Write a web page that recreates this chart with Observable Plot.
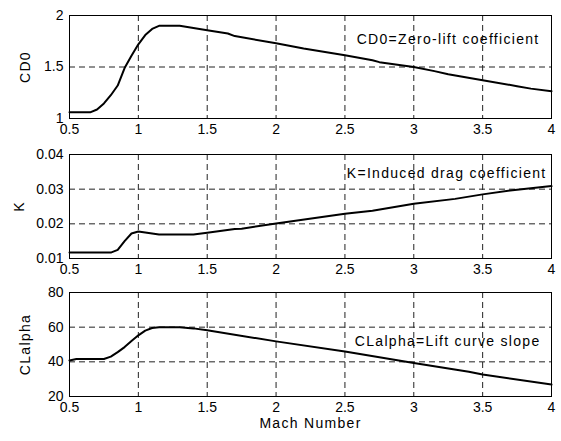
<!DOCTYPE html>
<html>
<head>
<meta charset="utf-8">
<script src="https://cdn.jsdelivr.net/npm/d3@7"></script>
<script src="https://cdn.jsdelivr.net/npm/@observablehq/plot@0.6"></script>
<style>
  html, body { margin: 0; padding: 0; background: white; }
  #chart svg { display: block; }
</style>
</head>
<body>
<div id="chart"></div>
<script>
// X tick labels (Mach number)
const xTicks = [0.5, 1, 1.5, 2, 2.5, 3, 3.5, 4];

// Panel 1: CD0
const mach1 = [0.5, 0.65, 0.7, 0.75, 0.8, 0.85, 0.9, 0.95, 1.0, 1.05, 1.1, 1.15, 1.3, 1.5, 1.65, 1.7, 2.0, 2.2, 2.5, 2.7, 2.75, 3.0, 3.15, 3.25, 3.5, 3.75, 3.85, 4.0];
const cd0   = [1.06, 1.06, 1.087, 1.146, 1.226, 1.32, 1.49, 1.61, 1.72, 1.81, 1.87, 1.90, 1.90, 1.857, 1.825, 1.80, 1.73, 1.68, 1.615, 1.566, 1.547, 1.50, 1.46, 1.43, 1.372, 1.314, 1.29, 1.265];
const cd0Ticks = [1, 1.5, 2];

// Panel 2: K
const mach2 = [0.5, 0.8, 0.85, 0.9, 0.95, 1.0, 1.05, 1.15, 1.4, 1.5, 1.7, 1.75, 2.0, 2.5, 2.7, 3.0, 3.3, 3.5, 3.7, 4.0];
const kVals = [0.0117, 0.0117, 0.0125, 0.0150, 0.0172, 0.0178, 0.0175, 0.0169, 0.0169, 0.01745, 0.0185, 0.0186, 0.0201, 0.0229, 0.0238, 0.0258, 0.0272, 0.0285, 0.0296, 0.0309];
const kTicks = [0.01, 0.02, 0.03, 0.04];

// Panel 3: CLalpha
const mach3 = [0.5, 0.55, 0.75, 0.8, 0.85, 0.9, 0.95, 1.0, 1.05, 1.1, 1.15, 1.3, 1.4, 1.5, 2.0, 2.5, 3.0, 3.4, 3.5, 4.0];
const claVals = [40.8, 41.6, 41.6, 43, 45.6, 48.5, 52, 55.3, 58, 59.5, 60, 60, 59.3, 58.2, 51.8, 46, 39.3, 34.3, 32.7, 26.9];
const claTicks = [20, 40, 60, 80];

const yLabels = ["CD0", "K", "CLalpha"];
const notes = ["CD0=Zero-lift coefficient", "K=Induced drag coefficient", "CLalpha=Lift curve slope"];
const xLabel = "Mach Number";

const FONT = "'Liberation Sans', Arial, Helvetica, sans-serif";
const gridStyle = {stroke: "#222", strokeOpacity: 1, strokeWidth: 1, strokeDasharray: "6,4"};

function panel({mach, vals, yTicks, yLabel, note, height, marginTop, marginBottom, labelDx, noteDx, noteDy, withX}) {
  const idx = d3.range(mach.length);
  const marks = [
    Plot.gridX(xTicks, gridStyle),
    Plot.gridY(yTicks, gridStyle),
    Plot.frame({stroke: "black", strokeWidth: 1}),
    Plot.axisX(xTicks, {tickSize: 0, tickPadding: 6, tickFormat: d => String(d), label: null}),
    Plot.axisY(yTicks, {tickSize: 0, tickPadding: 6, tickFormat: d => String(d), label: null}),
    Plot.line(idx, {x: i => mach[i], y: i => vals[i], stroke: "black", strokeWidth: 2}),
    Plot.text([yLabel], {frameAnchor: "left", rotate: -90, dx: labelDx, textAnchor: "middle", lineAnchor: "middle", fill: "black"}),
    Plot.text([note], {frameAnchor: "top-right", textAnchor: "end", lineAnchor: "middle", dx: noteDx, dy: noteDy, fill: "black"})
  ];
  if (withX) {
    marks.push(Plot.text([xLabel], {frameAnchor: "bottom", textAnchor: "middle", lineAnchor: "middle", dy: 27, fill: "black"}));
  }
  return Plot.plot({
    width: 561,
    height,
    marginLeft: 69,
    marginRight: 10,
    marginTop,
    marginBottom,
    style: {fontFamily: FONT, fontSize: "14px", background: "white", color: "black", overflow: "visible"},
    x: {type: "linear", domain: [0.5, 4]},
    y: {type: "linear", domain: [yTicks[0], yTicks[yTicks.length - 1]]},
    marks
  });
}

const chart = document.getElementById("chart");
const p1 = panel({mach: mach1, vals: cd0, yTicks: cd0Ticks, yLabel: yLabels[0], note: notes[0], height: 140, marginTop: 15, marginBottom: 22, labelDx: -44, noteDx: -12, noteDy: 24});
const p2 = panel({mach: mach2, vals: kVals, yTicks: kTicks, yLabel: yLabels[1], note: notes[1], height: 140, marginTop: 14, marginBottom: 22, labelDx: -50, noteDx: -5, noteDy: 19});
const p3 = panel({mach: mach3, vals: claVals, yTicks: claTicks, yLabel: yLabels[2], note: notes[2], height: 161, marginTop: 12, marginBottom: 45, labelDx: -44, noteDx: -11, noteDy: 49, withX: true});
[p1, p2, p3].forEach(p => {
  d3.select(p).selectAll("g[aria-label='text'] text").attr("letter-spacing", "1.3px");
  chart.appendChild(p);
});
</script>
</body>
</html>
